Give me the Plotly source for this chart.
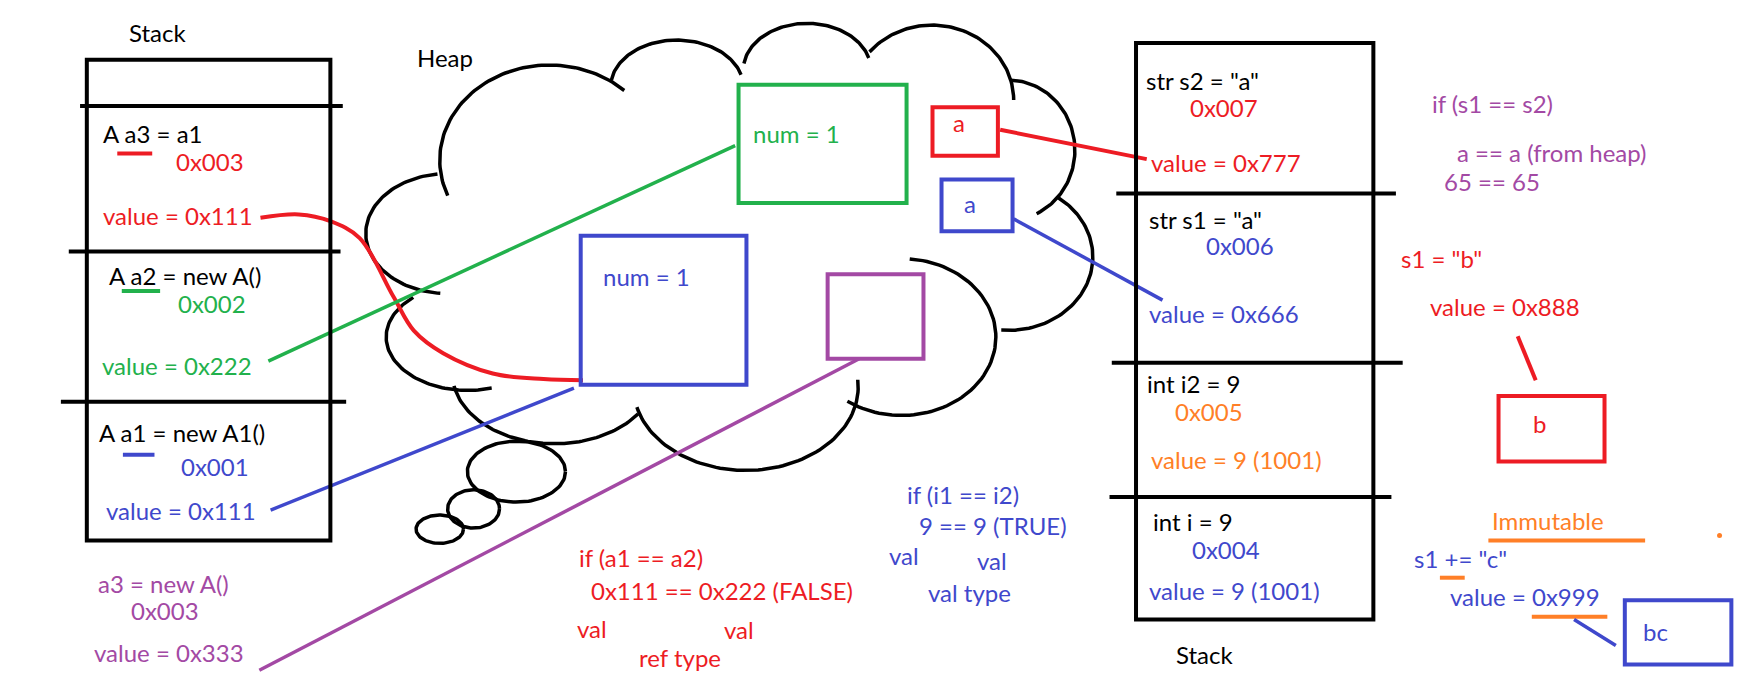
import numpy as np
import plotly.graph_objects as go

# MS Paint colours
RED = "#ED1C24"
GREEN = "#22B14C"
BLUE = "#3F48CC"
PURPLE = "#A349A4"
ORANGE = "#FF7F27"
BLACK = "#000000"
FONT = "Lato"
SIZE = 24
TEXT_DY = -3  # annotations sit a little low when anchored at "middle"

# ---- texts ----
left_title = "Stack"
left_decls = ["A a3 = a1", "A a2 = new A()", "A a1 = new A1()"]
left_addrs = ["0x003", "0x002", "0x001"]
left_values = ["value = 0x111", "value = 0x222", "value = 0x111"]
left_colors = [RED, GREEN, BLUE]

extra_obj = ["a3 = new A()", "0x003", "value = 0x333"]

heap_title = "Heap"
heap_labels = ["num = 1", "a", "a", "num = 1", ""]
heap_colors = [GREEN, RED, BLUE, BLUE, PURPLE]

right_title = "Stack"
right_decls = ['str s2 = "a"', 'str s1 = "a"', "int i2 = 9", "int i = 9"]
right_addrs = ["0x007", "0x006", "0x005", "0x004"]
right_values = ["value = 0x777", "value = 0x666", "value = 9 (1001)", "value = 9 (1001)"]
right_colors = [RED, BLUE, ORANGE, BLUE]

ref_compare = ["if (a1 == a2)", "0x111 == 0x222 (FALSE)", "val", "val", "ref type"]
val_compare = ["if (i1 == i2)", "9 == 9 (TRUE)", "val", "val", "val type"]
str_compare = ["if (s1 == s2)", "a == a (from heap)", "65 == 65"]
str_assign = ['s1 = "b"', "value = 0x888", "b"]
str_concat = ["Immutable", 's1 += "c"', "value = 0x999", "bc"]

# ---- layout geometry (drawing units, y grows downward) ----
left_box = (77, 53, 293, 479)
left_rules = [(71, 304, 94), (61, 302, 223), (54, 307, 356)]
left_decl_pos = [(90, 121), (95, 247), (86, 386)]
left_addr_pos = [(154, 146), (156, 272), (159, 416)]
left_value_pos = [(90, 194), (89, 327), (92, 455)]
left_unders = [(104, 135, 136), (108, 142, 258), (109, 137, 403)]
extra_pos = [(85, 520), (114, 544), (82, 581)]

right_box = (1007.5, 38, 1218, 549)
right_rules = [(990, 1238, 171.5), (986, 1244, 321.5), (984, 1234, 440.5)]
right_decl_pos = [(1015, 74.5), (1017, 197.5), (1015.5, 342.5), (1021, 465)]
right_addr_pos = [(1053.5, 98), (1068, 221), (1040.5, 367.5), (1055, 490)]
right_value_pos = [(1019, 147), (1017, 281), (1019, 410), (1017, 526)]

heap_boxes = [(655, 75, 804, 180), (827, 95, 885, 138), (835, 159, 898, 205),
              (515, 209, 662, 341), (734, 243, 819, 318)]
heap_label_pos = [(666, 121), (843, 112), (853, 183), (533, 248), None]

# cloud bumps: cx, cy, rx, ry, start angle, end angle (deg)
cloud_arcs = [
    (487.3, 141.9, 97.3, 84.3, 202, 47),
    (600.4, 76.9, 58.8, 41.4, 172, 15),
    (715.8, 62.1, 56.6, 41.4, 172, 15),
    (826.6, 88.7, 72.4, 66.5, 140, 0),
    (894.5, 133.1, 58.8, 62.1, 88, -65),
    (894.5, 227.7, 74.7, 65.1, 55, -95),
    (799.5, 298.7, 83.7, 69.5, 85, -125),
    (661.5, 343.0, 99.6, 73.9, 5, -166),
    (491.8, 331.2, 90.5, 62.1, -35, -170),
    (414.9, 298.7, 72.4, 47.3, -73, -228),
    (396.8, 207.0, 72.4, 53.2, 97, 265),
]
bubbles = [(458, 418, 43.5, 27), (420, 451, 23, 17), (390, 469, 21, 12.6)]

fig = go.Figure()


def add_line(xs, ys, color, width=3.5, shape="linear"):
    fig.add_trace(go.Scatter(x=xs, y=ys, mode="lines", hoverinfo="skip",
                             line=dict(color=color, width=width, shape=shape)))


def add_text(pos, text, color, size=SIZE):
    fig.add_annotation(x=pos[0], y=pos[1] + TEXT_DY, text=text, showarrow=False,
                       xanchor="left", yanchor="middle",
                       font=dict(family=FONT, size=size, color=color))


def add_box(b, color, width=4):
    fig.add_shape(type="rect", x0=b[0], y0=b[1], x1=b[2], y1=b[3],
                  line=dict(color=color, width=width))


# cloud
for cx, cy, rx, ry, t0, t1 in cloud_arcs:
    t = np.radians(np.linspace(t0, t1, 80))
    add_line(cx + rx * np.cos(t), cy - ry * np.sin(t), BLACK, 3.5)
for cx, cy, rx, ry in bubbles:
    t = np.linspace(0, 2 * np.pi, 120)
    add_line(cx + rx * np.cos(t), cy + ry * np.sin(t), BLACK, 3.5)

# stacks
add_box(left_box, BLACK)
for x0, x1, y in left_rules:
    add_line([x0, x1], [y, y], BLACK, 4)
add_box(right_box, BLACK)
for x0, x1, y in right_rules:
    add_line([x0, x1], [y, y], BLACK, 4)

for i in range(3):
    add_text(left_decl_pos[i], left_decls[i], BLACK)
    add_text(left_addr_pos[i], left_addrs[i], left_colors[i])
    add_text(left_value_pos[i], left_values[i], left_colors[i])
    x0, x1, y = left_unders[i]
    add_line([x0, x1], [y, y], left_colors[i], 4)
for i in range(3):
    add_text(extra_pos[i], extra_obj[i], PURPLE)

for i in range(4):
    add_text(right_decl_pos[i], right_decls[i], BLACK)
    add_text(right_addr_pos[i], right_addrs[i], right_colors[i])
    add_text(right_value_pos[i], right_values[i], right_colors[i])

add_text((113, 32), left_title, BLACK)
add_text((368, 54), heap_title, BLACK)
add_text((1041.5, 583), right_title, BLACK)

# heap objects
for b, lab, c, p in zip(heap_boxes, heap_labels, heap_colors, heap_label_pos):
    add_box(b, c)
    if p:
        add_text(p, lab, c)

# references
add_line([231, 265, 293, 319, 349, 367, 393, 437, 482, 517],
         [193, 190, 196, 211, 263, 293, 313, 331, 336, 337], RED, 4, "spline")
add_line([238, 652], [320, 129], GREEN)
add_line([240, 509], [452, 344], BLUE)
add_line([230, 762], [594, 318], PURPLE)
add_line([887, 1017], [115, 141], RED, 4)
add_line([899, 1031], [194, 266], BLUE)

# comparisons
cmp_pos = [(512, 497), (522, 526), (510, 560), (640, 561), (565, 586)]
for p, s in zip(cmp_pos, ref_compare):
    add_text(p, s, RED)
vcmp_pos = [(803, 441), (813, 469), (787, 495), (865, 500), (821, 528)]
for p, s in zip(vcmp_pos, val_compare):
    add_text(p, s, BLUE)
scmp_pos = [(1268, 95), (1290, 138), (1279, 164)]
for p, s in zip(scmp_pos, str_compare):
    add_text(p, s, PURPLE)

add_text((1240.5, 232.5), str_assign[0], RED)
add_text((1266, 275), str_assign[1], RED)
add_line([1346, 1362], [298, 337], RED, 4)
add_box((1329, 351, 1423, 409), RED)
add_text((1358, 378.5), str_assign[2], RED)

add_text((1321, 464), str_concat[0], ORANGE)
add_line([1320, 1459], [479, 479], ORANGE, 4)
fig.add_trace(go.Scatter(x=[1525], y=[474.5], mode="markers", hoverinfo="skip",
                         marker=dict(color=ORANGE, size=5)))
add_text((1252.5, 498), str_concat[1], BLUE)
add_line([1277, 1299], [512, 512], ORANGE, 4)
add_text((1284, 532), str_concat[2], BLUE)
add_line([1358.5, 1425.5], [546.5, 546.5], ORANGE, 4)
add_line([1396, 1433], [549, 572], BLUE)
add_box((1441, 532, 1535.5, 589), BLUE)
add_text((1455.5, 562.5), str_concat[3], BLUE)

fig.update_layout(
    width=1759, height=677,
    margin=dict(l=0, r=0, t=0, b=0),
    showlegend=False,
    plot_bgcolor="white", paper_bgcolor="white",
    xaxis=dict(range=[0, 1560], visible=False),
    yaxis=dict(range=[600, 0], visible=False),
)

# the page body has a default 8px margin; drop it so the drawing sits at the corner
fig.write_html("out.html", config={"displayModeBar": False},
               post_script="document.body.style.margin='0';")
